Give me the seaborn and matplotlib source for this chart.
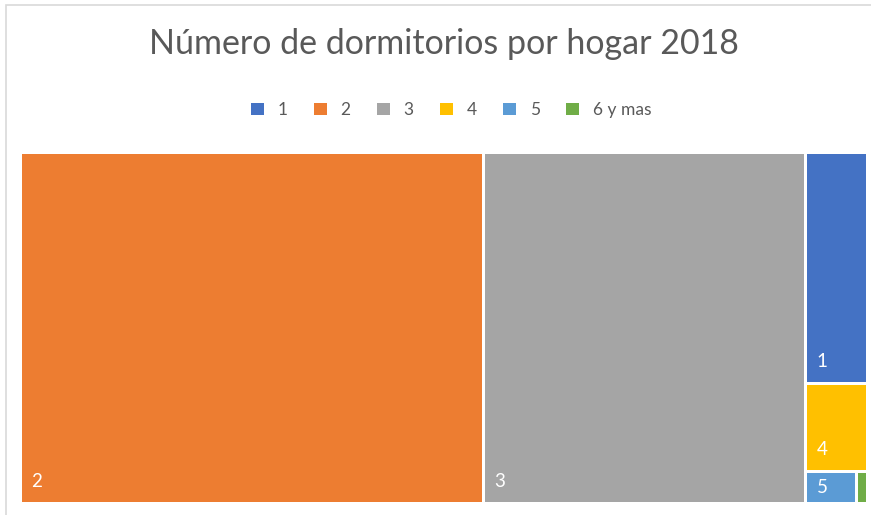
import matplotlib
matplotlib.use("Agg")
import matplotlib.pyplot as plt
from matplotlib.patches import Rectangle, Patch
import seaborn as sns

# ---- data ----
categories = ["1", "2", "3", "4", "5", "6 y mas"]
values = [4.82, 54.66, 38.02, 1.84, 0.55, 0.12]
colors = ["#4472C4", "#ED7D31", "#A5A5A5", "#FFC000", "#5B9BD5", "#70AD47"]
title = "Número de dormitorios por hogar 2018"

sns.set_theme(style="white")
plt.rcParams["font.family"] = ["Lato", "DejaVu Sans"]

FW, FH, DPI = 871, 515, 100
fig = plt.figure(figsize=(FW / DPI, FH / DPI), dpi=DPI)

# plot area (pixel based)
ax_l, ax_r, ax_t, ax_b = 20.5, 867.5, 152.5, 503.5
W, H = ax_r - ax_l, ax_b - ax_t
ax = fig.add_axes([ax_l / FW, 1 - ax_b / FH, W / FW, H / FH])
ax.set_xlim(0, W)
ax.set_ylim(H, 0)
ax.axis("off")


# ---- squarified treemap layout ----
def layoutrow(sizes, x, y, dx, dy):
    height = sum(sizes) / dx
    rects = []
    for s in sizes:
        w = s / height
        rects.append((x, y, w, height))
        x += w
    return rects


def layoutcol(sizes, x, y, dx, dy):
    width = sum(sizes) / dy
    rects = []
    for s in sizes:
        h = s / width
        rects.append((x, y, width, h))
        y += h
    return rects


def layout(sizes, x, y, dx, dy):
    return layoutrow(sizes, x, y, dx, dy) if dx < dy else layoutcol(sizes, x, y, dx, dy)


def leftover(sizes, x, y, dx, dy):
    covered = sum(sizes)
    if dx >= dy:
        width = covered / dy
        return x + width, y, dx - width, dy
    height = covered / dx
    return x, y + height, dx, dy - height


def worst_ratio(sizes, x, y, dx, dy):
    return max(max(w / h, h / w) for (_, _, w, h) in layout(sizes, x, y, dx, dy))


def squarify(sizes, x, y, dx, dy):
    if not sizes:
        return []
    if len(sizes) == 1:
        return layout(sizes, x, y, dx, dy)
    i = 1
    while i < len(sizes) and worst_ratio(sizes[:i], x, y, dx, dy) >= worst_ratio(sizes[:i + 1], x, y, dx, dy):
        i += 1
    current, remaining = sizes[:i], sizes[i:]
    lx, ly, ldx, ldy = leftover(current, x, y, dx, dy)
    return layout(current, x, y, dx, dy) + squarify(remaining, lx, ly, ldx, ldy)


order = sorted(range(len(values)), key=lambda k: -values[k])
total = sum(values)
sizes = [values[k] / total * W * H for k in order]
rects = squarify(sizes, 0, 0, W, H)

g = 1.5
for k, (x, y, w, h) in zip(order, rects):
    ax.add_patch(Rectangle((x + g, y + g), w - 2 * g, h - 2 * g,
                           facecolor=colors[k], edgecolor="none"))
    fw, fh = w - 2 * g, h - 2 * g
    if fw > 20 and fh > 14:
        pad = min(15, (fh - 12) / 2)
        ax.text(x + g + 9.5, y + h - g - pad, categories[k], color="white",
                fontsize=13.5, ha="left", va="baseline")

# ---- title & legend ----
fig.text(444 / FW, 1 - 44 / FH, title, ha="center", va="center",
         fontsize=24.5, color="#595959")

handles = [Patch(facecolor=c, edgecolor="none", label=l) for l, c in zip(categories, colors)]
fig.legend(handles=handles, loc="center", bbox_to_anchor=(451 / FW, 1 - 110 / FH),
           ncol=6, frameon=False, handlelength=0.75, handleheight=0.75,
           handletextpad=0.8, columnspacing=1.5, fontsize=12.5, labelcolor="#595959")

# chart frame (top and left edges visible)
fig.add_artist(Rectangle((6 / FW, -0.1), 1.2, 1 - 5 / FH + 0.1, transform=fig.transFigure,
                         facecolor="none", edgecolor="#D9D9D9", linewidth=1.2))

fig.savefig("out.png", dpi=DPI)
